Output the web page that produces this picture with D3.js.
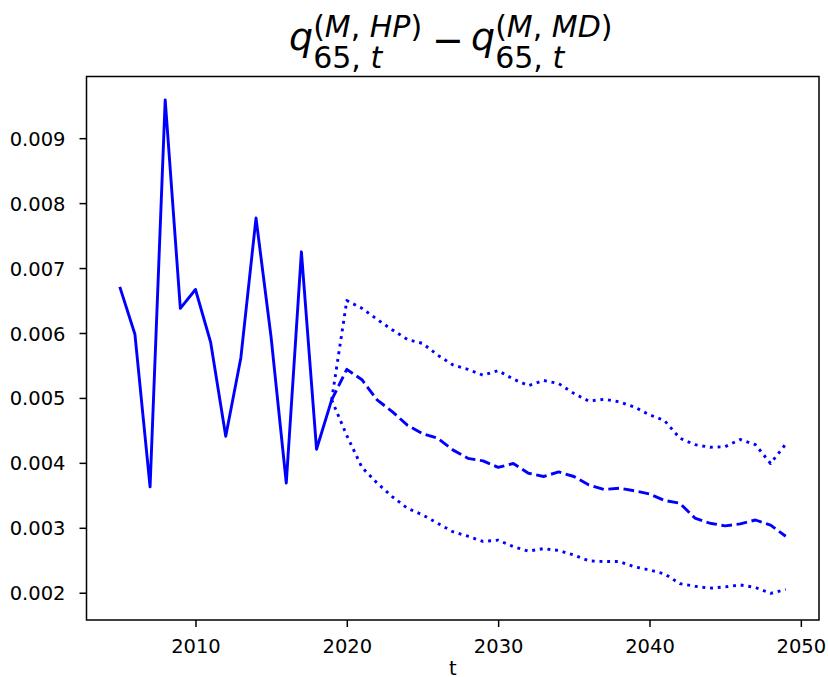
<!DOCTYPE html>
<html>
<head>
<meta charset="utf-8">
<script src="https://cdn.jsdelivr.net/npm/d3@7/dist/d3.min.js"></script>
<style>
  body { margin: 0; background: #fff; }
  svg text { font-family: "DejaVu Sans", sans-serif; fill: #000; }
</style>
</head>
<body>
<div id="chart"></div>
<script>
// observed years and values
const histYears = [2005, 2006, 2007, 2008, 2009, 2010, 2011, 2012, 2013, 2014, 2015, 2016, 2017, 2018, 2019];
const histValues = [0.00671, 0.00598, 0.00363, 0.00959, 0.00638, 0.00667, 0.00586, 0.00441, 0.00562, 0.00777,
  0.00593, 0.00369, 0.00725, 0.00421, 0.00497];

// forecast years (start from the last observed year)
const fcYears = [2019, 2020, 2021, 2022, 2023, 2024, 2025, 2026, 2027, 2028, 2029, 2030, 2031, 2032, 2033, 2034,
  2035, 2036, 2037, 2038, 2039, 2040, 2041, 2042, 2043, 2044, 2045, 2046, 2047, 2048, 2049];
const fcMedian = [0.00497, 0.00544, 0.00528, 0.00497, 0.00479, 0.00458, 0.00445, 0.00438, 0.00420, 0.00407,
  0.00403, 0.00393, 0.00399, 0.00384, 0.00379, 0.00386, 0.00379, 0.00366, 0.00359, 0.00361, 0.00357,
  0.00352, 0.00342, 0.00338, 0.00315, 0.00307, 0.00303, 0.00306, 0.00312, 0.00304, 0.00287];
const fcUpper = [0.00497, 0.00650, 0.00638, 0.00621, 0.00605, 0.00590, 0.00584, 0.00566, 0.00551, 0.00544,
  0.00535, 0.00542, 0.00529, 0.00519, 0.00527, 0.00522, 0.00507, 0.00495, 0.00498, 0.00494, 0.00486,
  0.00474, 0.00465, 0.00438, 0.00428, 0.00424, 0.00425, 0.00436, 0.00428, 0.00399, 0.00429];
const fcLower = [0.00497, 0.00442, 0.00393, 0.00369, 0.00348, 0.00330, 0.00320, 0.00307, 0.00294, 0.00287,
  0.00279, 0.00281, 0.00271, 0.00264, 0.00268, 0.00265, 0.00258, 0.00249, 0.00248, 0.00248, 0.00240,
  0.00235, 0.00229, 0.00214, 0.00210, 0.00207, 0.00209, 0.00212, 0.00208, 0.00199, 0.00205];

const xTicks = [2010, 2020, 2030, 2040, 2050];
const yTicks = [0.002, 0.003, 0.004, 0.005, 0.006, 0.007, 0.008, 0.009];

let width = 828,
  height = 677,
  axLeft = 86.5,
  axRight = 819,
  axTop = 76.5,
  axBottom = 620,
  lineColor = "#0000ff",
  lw = 2.9;

const svg = d3
  .select("#chart")
  .append("svg")
  .attr("width", width)
  .attr("height", height);

const x = d3.scaleLinear().domain([2002.8, 2051.2]).range([axLeft, axRight]);
const y = d3.scaleLinear().domain([0.00158, 0.00995]).range([axBottom, axTop]);

// series lines
const drawLine = (xs, ys, dash) =>
  svg
    .append("path")
    .datum(xs.map((d, i) => [d, ys[i]]))
    .attr("fill", "none")
    .attr("stroke", lineColor)
    .attr("stroke-width", lw)
    .attr("stroke-linejoin", "round")
    .attr("stroke-dasharray", dash)
    .attr("d", d3.line().x(d => x(d[0])).y(d => y(d[1])));

drawLine(fcYears, fcUpper, "2.9,4.8");
drawLine(fcYears, fcLower, "2.9,4.8");
drawLine(fcYears, fcMedian, "10.7,4.6");
drawLine(histYears, histValues, null);

// axes
const xAxis = svg
  .append("g")
  .attr("transform", `translate(0,${axBottom})`)
  .call(d3.axisBottom(x).tickValues(xTicks).tickSize(7).tickPadding(12).tickFormat(d3.format("d")));
const yAxis = svg
  .append("g")
  .attr("transform", `translate(${axLeft},0)`)
  .call(d3.axisLeft(y).tickValues(yTicks).tickSize(7).tickPadding(14).tickFormat(d3.format(".3f")));

[xAxis, yAxis].forEach(g => {
  g.select(".domain").remove();
  g.selectAll(".tick line").attr("stroke", "#000").attr("stroke-width", 1.5);
  g.selectAll(".tick text")
    .style("font-family", "DejaVu Sans")
    .style("font-size", "19.5px")
    .attr("fill", "#000");
});
yAxis.selectAll(".tick text").attr("dy", "0.36em");

// frame
svg
  .append("rect")
  .attr("x", axLeft)
  .attr("y", axTop)
  .attr("width", axRight - axLeft)
  .attr("height", axBottom - axTop)
  .attr("fill", "none")
  .attr("stroke", "#000")
  .attr("stroke-width", 1.5);

// x label
svg
  .append("text")
  .attr("x", (axLeft + axRight) / 2)
  .attr("y", 675)
  .attr("text-anchor", "middle")
  .style("font-size", "19.5px")
  .text("t");

// title: q^{(M,HP)}_{65,t} - q^{(M,MD)}_{65,t}
const mathTerm = (x0, sup) => {
  const q = svg.append("text").attr("x", x0).attr("y", 50)
    .style("font-size", "38px").style("font-style", "italic").text("q");
  const xs = x0 + q.node().getComputedTextLength();
  const s = svg.append("text").attr("x", xs).attr("y", 37).style("font-size", "30px");
  s.append("tspan").text("(");
  s.append("tspan").style("font-style", "italic").text("M");
  s.append("tspan").text(", ");
  s.append("tspan").style("font-style", "italic").text(sup);
  s.append("tspan").text(")");
  const b = svg.append("text").attr("x", xs).attr("y", 68).style("font-size", "30px");
  b.append("tspan").text("65, ");
  b.append("tspan").style("font-style", "italic").text("t");
};
mathTerm(289, "HP");
svg.append("text").attr("x", 432).attr("y", 53).style("font-size", "38px").text("\u2212");
mathTerm(471, "MD");
</script>
</body>
</html>
